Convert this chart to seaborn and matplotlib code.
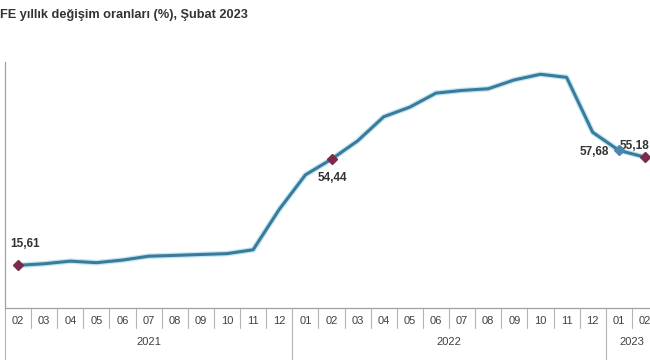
import matplotlib
matplotlib.use("Agg")
import matplotlib.pyplot as plt
import matplotlib.patheffects as pe
import matplotlib.transforms as mtransforms
import numpy as np
import pandas as pd
import seaborn as sns

# TÜFE annual change (%), Feb 2021 - Feb 2023
months = ["02", "03", "04", "05", "06", "07", "08", "09", "10", "11", "12",
          "01", "02", "03", "04", "05", "06", "07", "08", "09", "10", "11", "12",
          "01", "02"]
years = ["2021"] * 11 + ["2022"] * 12 + ["2023"] * 2
values = [15.61, 16.19, 17.14, 16.59, 17.53, 18.95, 19.25, 19.58, 19.89, 21.31, 36.08,
          48.69, 54.44, 61.14, 69.97, 73.50, 78.62, 79.60, 80.21, 83.45, 85.51, 84.39, 64.27,
          57.68, 55.18]
title = "FE yıllık değişim oranları (%), Şubat 2023"

# highlighted points: index -> (label offset in px, marker colour)
highlights = {0: ((7, 21), "#7b2a4c"), 12: ((1, -19), "#7b2a4c"),
              23: ((-25, -2), "#4a86b0"), 24: ((-10, 11), "#7b2a4c")}

df = pd.DataFrame({"pos": np.arange(len(values)), "value": values,
                   "month": months, "year": years})

sns.set_style("white")
plt.rcParams["font.family"] = ["Liberation Sans", "DejaVu Sans"]

W, H = 650, 360
fig = plt.figure(figsize=(6.5, 3.6), dpi=100)
# plot area runs past the right edge like the cropped original
x0, x1, ytop, ybot = 5, 658, 62, 308
ax = fig.add_axes([x0 / W, (H - ybot) / H, (x1 - x0) / W, (ybot - ytop) / H])

line_col = "#3a7b9c"
sns.lineplot(data=df, x="pos", y="value", ax=ax, color=line_col, linewidth=2.2,
             path_effects=[pe.Stroke(linewidth=4.0, foreground="#c4e6f2"), pe.Normal()])

for i, ((dx, dy), col) in highlights.items():
    ax.plot(df["pos"][i], df["value"][i], marker="D", markersize=5, color=col,
            markeredgecolor=col, zorder=5)
    ax.annotate(f"{values[i]:.2f}".replace(".", ","), (df["pos"][i], df["value"][i]),
                xytext=(dx * 0.72, dy * 0.72), textcoords="offset points",
                ha="center", va="center", fontsize=8.5, fontweight="bold",
                color="#333333", annotation_clip=False)

ax.set_xlim(-0.5, len(values) - 0.5)
ax.set_ylim(0, 90)
ax.set_yticks(range(0, 91, 10))
ax.set_yticklabels([])
ax.set_xticks(df["pos"])
ax.set_xticklabels(months, fontsize=8, color="#404040")
ax.tick_params(axis="x", length=0, pad=6)
ax.tick_params(axis="y", length=3.5, width=0.8, color="#a0a0a0", direction="out")
ax.set_xlabel("")
ax.set_ylabel("")
for s in ["top", "right"]:
    ax.spines[s].set_visible(False)
for s in ["left", "bottom"]:
    ax.spines[s].set_color("#a0a0a0")
    ax.spines[s].set_linewidth(0.9)

# category table below the axis: month and year separators
trans = mtransforms.blended_transform_factory(ax.transData, ax.transAxes)
sep_col = "#b5b5b5"
for p in df["pos"][:-1]:
    if df["year"][p] != df["year"][p + 1]:
        continue
    ax.plot([p + 0.5, p + 0.5], [0, -0.083], transform=trans, color=sep_col,
            linewidth=0.8, clip_on=False)
year_edges = [-0.5] + [p + 0.5 for p in df["pos"][:-1] if df["year"][p] != df["year"][p + 1]]
for e in year_edges:
    ax.plot([e, e], [0, -0.23], transform=trans, color=sep_col, linewidth=0.8,
            clip_on=False)
for yr, grp in df.groupby("year"):
    ax.text(grp["pos"].mean(), -0.138, yr, transform=trans, ha="center", va="center",
            fontsize=8, color="#404040")

fig.text(0.0, 1 - 15 / H, title, ha="left", va="center", fontsize=9.2,
         fontweight="bold", color="#333333")

fig.savefig("out.png", dpi=100)
